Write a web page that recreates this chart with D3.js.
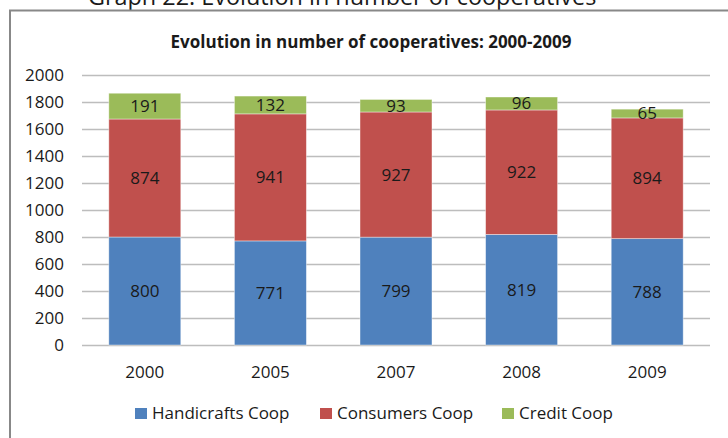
<!DOCTYPE html>
<html>
<head>
<meta charset="utf-8">
<script src="https://cdn.jsdelivr.net/npm/d3@7"></script>
<style>
  html, body { margin: 0; padding: 0; background: #fff; }
  svg { display: block; }
  text { font-family: "Open Sans", "Liberation Sans", sans-serif; fill: #1a1a1a; }
</style>
</head>
<body>
<svg id="chart" width="728" height="438"></svg>
<script>
// Number of cooperatives by type and year
const years = ["2000", "2005", "2007", "2008", "2009"];
const seriesNames = ["Handicrafts Coop", "Consumers Coop", "Credit Coop"];
const handicrafts = [800, 771, 799, 819, 788];
const consumers = [874, 941, 927, 922, 894];
const credit = [191, 132, 93, 96, 65];
const yTicks = [0, 200, 400, 600, 800, 1000, 1200, 1400, 1600, 1800, 2000];
const colors = ["#4F81BD", "#C0504D", "#9BBB59"];

const rows = years.map((y, i) => ({
  year: y,
  "Handicrafts Coop": handicrafts[i],
  "Consumers Coop": consumers[i],
  "Credit Coop": credit[i]
}));

const svg = d3.select("#chart");
const W = 728, H = 438;
const plot = { left: 82, right: 710, top: 75, bottom: 345 };
const labelSize = "17px";

// Page heading above the chart frame
svg.append("text")
  .attr("x", 88).attr("y", 5)
  .style("font-size", "23.4px")
  .text("Graph 22. Evolution in number of cooperatives");

// Chart frame
svg.append("rect")
  .attr("x", 10).attr("y", 10.5)
  .attr("width", W + 10).attr("height", H + 10)
  .attr("fill", "none")
  .attr("stroke", "#888888")
  .attr("stroke-width", 2);

// Chart title
svg.append("text")
  .attr("x", 371).attr("y", 48)
  .attr("text-anchor", "middle")
  .style("font-size", "17px")
  .style("font-weight", "bold")
  .text("Evolution in number of cooperatives: 2000-2009");

const x = d3.scaleBand()
  .domain(years)
  .range([plot.left, plot.right])
  .paddingInner(0.427)
  .paddingOuter(0.2135);

const y = d3.scaleLinear()
  .domain([0, 2000])
  .range([plot.bottom, plot.top]);

// Gridlines
svg.append("g")
  .selectAll("line")
  .data(yTicks)
  .join("line")
  .attr("x1", plot.left).attr("x2", plot.right)
  .attr("y1", d => Math.round(y(d)) + 0.5)
  .attr("y2", d => Math.round(y(d)) + 0.5)
  .attr("stroke", "#bdbdbd")
  .attr("stroke-width", 1.5);

// Y axis labels
const yAxis = d3.axisLeft(y).tickValues(yTicks).tickFormat(d3.format("d"))
  .tickSize(0).tickPadding(0);
const gy = svg.append("g")
  .attr("transform", `translate(${plot.left - 18},0)`)
  .call(yAxis);
gy.select(".domain").remove();
gy.selectAll("text")
  .style("font-family", "\"Open Sans\", sans-serif")
  .style("font-size", labelSize)
  .attr("fill", "#1a1a1a")
  .attr("dy", "0.35em");

// Stacked bars
const stack = d3.stack().keys(seriesNames);
const layers = stack(rows);

const layerG = svg.append("g")
  .selectAll("g")
  .data(layers)
  .join("g")
  .attr("fill", (d, i) => colors[i]);

layerG.selectAll("rect")
  .data(d => d)
  .join("rect")
  .attr("x", d => x(d.data.year))
  .attr("width", x.bandwidth())
  .attr("y", d => y(d[1]))
  .attr("height", d => y(d[0]) - y(d[1]))
  .attr("stroke", "rgba(255,255,255,0.5)")
  .attr("stroke-width", 0.8);

// Value labels centred in each segment
layerG.selectAll("text")
  .data(d => d.map(v => ({ v, key: d.key })))
  .join("text")
  .attr("x", d => x(d.v.data.year) + x.bandwidth() / 2)
  .attr("y", d => y((d.v[0] + d.v[1]) / 2))
  .attr("dy", "0.35em")
  .attr("text-anchor", "middle")
  .style("font-size", labelSize)
  .text(d => d.v.data[d.key]);

// X axis labels
const xAxis = d3.axisBottom(x).tickSize(0).tickPadding(0);
const gx = svg.append("g")
  .attr("transform", `translate(0,${plot.bottom + 27})`)
  .call(xAxis);
gx.select(".domain").remove();
gx.selectAll("text")
  .style("font-family", "\"Open Sans\", sans-serif")
  .style("font-size", labelSize)
  .attr("fill", "#1a1a1a")
  .attr("dy", "0.35em");

// Legend
const legendX = [135, 320, 502];
const legend = svg.append("g")
  .selectAll("g")
  .data(seriesNames)
  .join("g")
  .attr("transform", (d, i) => `translate(${legendX[i]},413.5)`);
legend.append("rect")
  .attr("x", 0).attr("y", -5.5)
  .attr("width", 12).attr("height", 11)
  .attr("fill", (d, i) => colors[i]);
legend.append("text")
  .attr("x", 17).attr("y", 0)
  .attr("dy", "0.35em")
  .style("font-size", labelSize)
  .text(d => d);
</script>
</body>
</html>
